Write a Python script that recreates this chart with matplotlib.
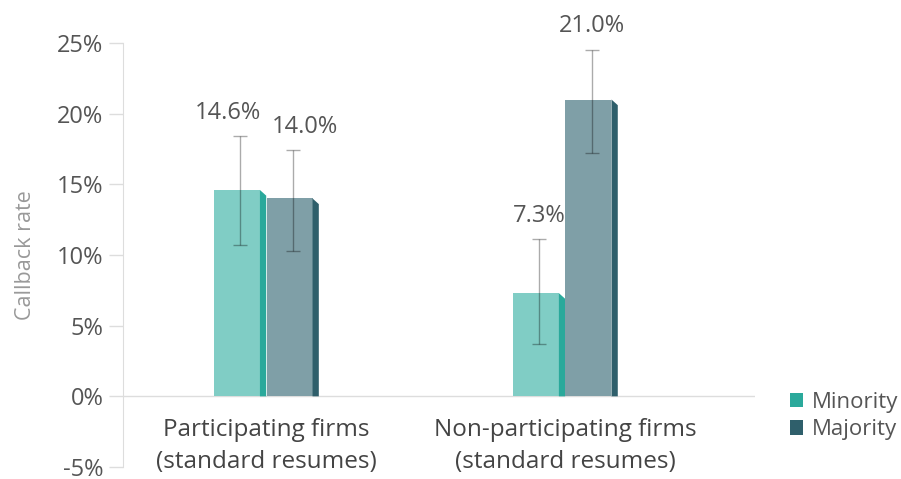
import matplotlib
matplotlib.use("Agg")
import matplotlib.pyplot as plt
from matplotlib.patches import Polygon, Patch
import numpy as np

categories = ["Participating firms\n(standard resumes)", "Non-participating firms\n(standard resumes)"]
series = ["Minority", "Majority"]
minority = [14.6, 7.3]
majority = [14.0, 21.0]
minority_lo = [10.7, 3.7]
minority_hi = [18.4, 11.1]
majority_lo = [10.3, 17.2]
majority_hi = [17.4, 24.5]
labels_min = ["14.6%", "7.3%"]
labels_maj = ["14.0%", "21.0%"]
yticks = [-5, 0, 5, 10, 15, 20, 25]

plt.rcParams['font.family'] = ['Open Sans', 'DejaVu Sans']

fig = plt.figure(figsize=(9.01, 4.79), dpi=100)
ax = fig.add_axes([123/901, 1-467/479, (755-123)/901, (467-43)/479])

face_cols = ["#80cdc5", "#7f9fa7"]
side_cols = ["#2aa99b", "#2f5f6b"]
w = 0.154
d = 0.021
drop = 0.4
offsets = [-0.176, 0.0]
x = np.arange(len(categories))

ax.set_xlim(-0.48, 1.634)
ax.set_ylim(-5, 25)

label_artists = [[], []]
for si, (vals, lo, hi, labs) in enumerate([(minority, minority_lo, minority_hi, labels_min),
                                            (majority, majority_lo, majority_hi, labels_maj)]):
    left = x + offsets[si]
    ax.bar(left, vals, width=w, align='edge', color=face_cols[si], zorder=2)
    for xi, v in zip(left, vals):
        poly = Polygon([(xi + w, v), (xi + w + d, v - drop), (xi + w + d, 0), (xi + w, 0)],
                       closed=True, facecolor=side_cols[si], edgecolor='none', zorder=2)
        ax.add_patch(poly)
    cx = left + (w + d) / 2
    vals_a = np.array(vals)
    yerr = np.vstack([vals_a - np.array(lo), np.array(hi) - vals_a])
    ax.errorbar(cx, vals_a, yerr=yerr, fmt='none', ecolor=(0, 0, 0, 0.33), elinewidth=1,
                capsize=5, capthick=1, zorder=3)
    for gi, (xc, h, t) in enumerate(zip(cx, hi, labs)):
        a = ax.annotate(t, (xc, h), xytext=(0, 17), textcoords='offset points',
                        ha='center', va='center', fontsize=17, color='#555555')
        label_artists[si].append(a)

# push apart overlapping value labels within a group
fig.canvas.draw()
r = fig.canvas.get_renderer()
for gi in range(len(categories)):
    a1, a2 = label_artists[0][gi], label_artists[1][gi]
    b1, b2 = a1.get_window_extent(r), a2.get_window_extent(r)
    if b1.overlaps(b2):
        need = (b1.x1 - b2.x0) + 10
        s = need / 2 * 72 / fig.dpi
        a1.xyann = (a1.xyann[0] - s, a1.xyann[1])
        a2.xyann = (a2.xyann[0] + s, a2.xyann[1])

ax.set_yticks(yticks)
ax.set_yticklabels([f"{t}%" for t in yticks], fontsize=17, color='#555555')
ax.tick_params(axis='y', length=10, width=1, color='#dddddd', pad=4)
ax.set_xticks([])
for s in ['top', 'right', 'bottom']:
    ax.spines[s].set_visible(False)
ax.spines['left'].set_color('#dddddd')
ax.axhline(0, color='#dddddd', lw=1, zorder=1)
ax.set_ylabel("Callback rate", fontsize=15.5, color='#999999', labelpad=15)

for xi, c in zip(x, categories):
    ax.text(xi, -3.5, c, ha='center', va='center', fontsize=17.5, color='#444444',
            linespacing=1.45)

handles = [Patch(facecolor=side_cols[0]), Patch(facecolor=side_cols[1])]
fig.legend(handles, series, loc='center left', bbox_to_anchor=(772/901, 1-416/479),
           frameon=False, fontsize=16, handlelength=0.6, handleheight=0.6,
           handletextpad=0.4, labelspacing=0.3, labelcolor='#555555',
           borderpad=0.3)

fig.savefig("out.png", dpi=100)
